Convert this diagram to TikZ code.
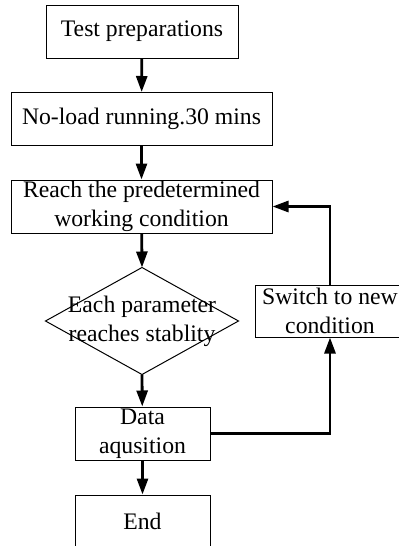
\documentclass[tikz,border=0pt]{standalone}
\usepackage{fontspec}
\setmainfont{Liberation Serif}
\usetikzlibrary{arrows.meta}

\tikzset{
  procBox/.style={draw, line width=0.5pt, inner sep=0pt, align=center,
    minimum height=26.5pt, font=\fontsize{11.85}{14.5}\selectfont},
  flowArrow/.style={-{Triangle[length=8pt,width=5.5pt]}, line width=1.4pt}
}

\begin{document}
\begin{tikzpicture}[x=0.5pt, y=-0.5pt]

    \useasboundingbox (0, 0) rectangle (399, 546);
    \clip (0, 0) rectangle (399, 546);

    % main chain of the test procedure
    \node [procBox, minimum width=96pt]    (Prep)   at (142, 31.5)  {Test preparations};
    \node [procBox, minimum width=130.5pt] (NoLoad) at (141.5, 119) {No-load running.30 mins};
    \node [procBox, minimum width=130.5pt] (Reach)  at (141.5, 206.5)
        {Reach the predetermined\\working condition};

    % decision: only the frame of a diamond, the text may run past it
    \node [procBox, draw=none, minimum width=96pt, minimum height=53pt] (Stable) at (142, 321)
        {Each parameter\\reaches stablity};
    \draw [line width=0.5pt] (Stable.north) -- (Stable.east) -- (Stable.south)
        -- (Stable.west) -- cycle;

    \node [procBox, minimum width=67.5pt] (Data) at (142.5, 433.5) {Data\\aqusition};
    \node [procBox, minimum width=67.5pt] (End)  at (142.5, 521.5) {End};

    % side branch
    \node [procBox, minimum width=75pt, minimum height=26pt] (Switch) at (330, 311)
        {Switch to new\\condition};

    \draw [flowArrow] (Prep)   -- (NoLoad);
    \draw [flowArrow] (NoLoad) -- (Reach);
    \draw [flowArrow] (Reach)  -- (Stable.north);
    \draw [flowArrow] (Stable.south) -- (Data);
    \draw [flowArrow] (Data)   -- (End);

    % loop back to a new working condition
    \draw [flowArrow] (Data.east) -| (Switch.south);
    \draw [flowArrow] (Switch.north) |- (Reach.east);

\end{tikzpicture}
\end{document}
